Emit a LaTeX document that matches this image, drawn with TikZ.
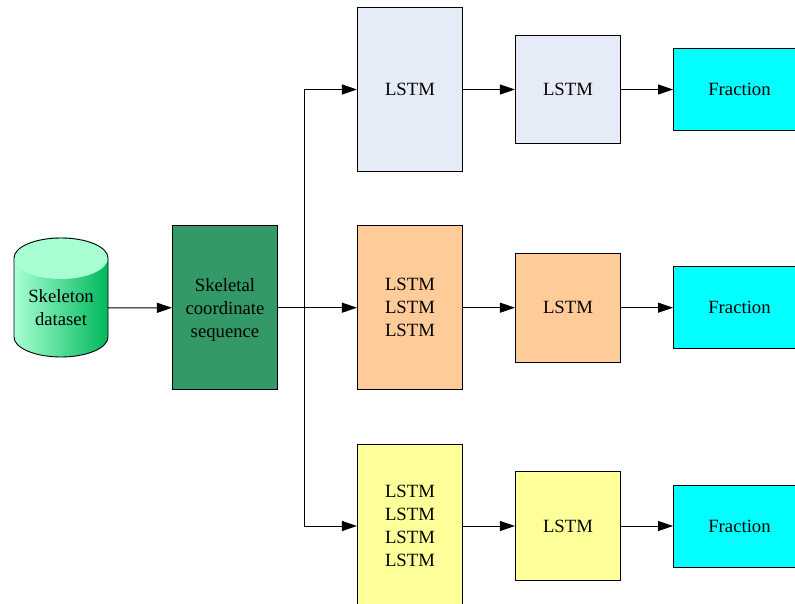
\documentclass[tikz,border=0pt]{standalone}
\usepackage{xcolor}
\usepackage{fontspec}
\setmainfont{Liberation Serif}
\usetikzlibrary{arrows.meta}
\definecolor{boxblue}{HTML}{E6ECF7}
\definecolor{boxorange}{HTML}{FFCC99}
\definecolor{boxyellow}{HTML}{FFFF99}
\definecolor{boxgreen}{HTML}{339966}
\definecolor{boxcyan}{HTML}{00FFFF}
\definecolor{cyllight}{HTML}{A8FFD2}
\definecolor{cyldark}{HTML}{00B85C}
\tikzset{
	box/.style={draw=black,line width=.9pt,inner sep=0pt,align=center,font=\fontsize{18.7}{23}\selectfont},
	tall/.style={box,minimum width=105.2pt,minimum height=163.5pt},
	short/.style={box,minimum width=105.2pt,minimum height=108.6pt},
	frac/.style={box,fill=boxcyan,minimum width=132pt,minimum height=82pt},
	arr/.style={line width=.9pt,-{Triangle[length=15pt,width=10pt]}}
}
\begin{document}
\begin{tikzpicture}[x=1pt,y=-1pt]
	\useasboundingbox (0,0) rectangle (795,604);
	%cilindro
	\shade[left color=cyllight,right color=cyldark] (14,258) -- (14,337) arc (180:0:47 and 20) -- (108,258) -- cycle;
	\fill[cyllight] (61,258) ellipse (47 and 21);
	\draw[line width=.9pt] (14,258) -- (14,337) arc (180:0:47 and 20) -- (108,258) arc (0:-180:47 and 20);
	\node[font=\fontsize{18.7}{23}\selectfont,align=center,inner sep=0pt,minimum width=94pt] (dataset) at (61,308) {Skeleton\\dataset};
	
	\node[tall,fill=boxgreen] (seq) at (225,307.7) {Skeletal\\coordinate\\\smash{sequence}};
	\coordinate (split) at (304,307.7);
	
	%fila 1
	\node[tall,fill=boxblue] (lstmA) at (410,89.5) {LSTM};
	\node[short,fill=boxblue] (lstmAb) at (568,89.5) {LSTM};
	\node[frac] (fracA) at (739.5,89.5) {Fraction};
	%fila 2
	\node[tall,fill=boxorange] (lstmB) at (410,307.7) {LSTM\\LSTM\\LSTM};
	\node[short,fill=boxorange] (lstmBb) at (568,307.7) {LSTM};
	\node[frac] (fracB) at (739.5,307.7) {Fraction};
	%fila 3
	\node[tall,fill=boxyellow] (lstmC) at (410,526) {LSTM\\LSTM\\LSTM\\LSTM};
	\node[short,fill=boxyellow] (lstmCb) at (568,526) {LSTM};
	\node[frac] (fracC) at (739.5,526) {Fraction};
	
	\draw[arr] (dataset) -- (seq);
	\draw[arr] (seq) -- (lstmB);
	\draw[arr] (split) |- (lstmA);
	\draw[arr] (split) |- (lstmC);
	\draw[arr] (lstmA) -- (lstmAb);
	\draw[arr] (lstmAb) -- (fracA);
	\draw[arr] (lstmB) -- (lstmBb);
	\draw[arr] (lstmBb) -- (fracB);
	\draw[arr] (lstmC) -- (lstmCb);
	\draw[arr] (lstmCb) -- (fracC);
\end{tikzpicture}
\end{document}
